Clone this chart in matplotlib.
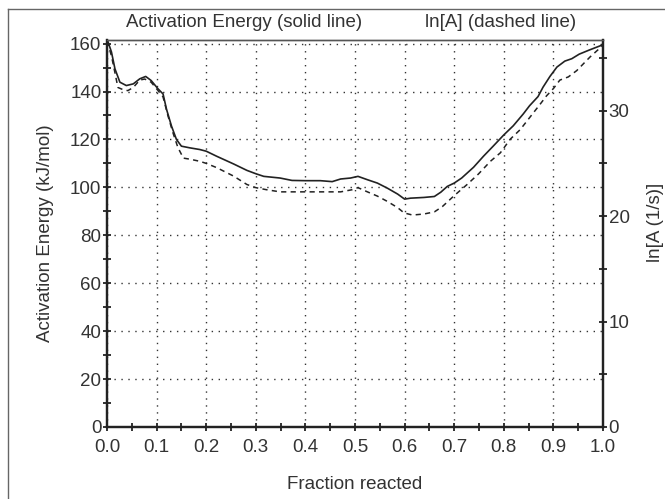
import matplotlib
matplotlib.use("Agg")
import matplotlib.pyplot as plt
from matplotlib.lines import Line2D
from matplotlib.ticker import MultipleLocator

plt.rcParams['font.family'] = ['Liberation Sans', 'DejaVu Sans']
plt.rcParams['font.size'] = 13.5

# activation energy (solid line), kJ/mol
ea_x = [0.0, 0.009, 0.016, 0.026, 0.039, 0.053, 0.066, 0.078, 0.089, 0.103,
        0.113, 0.12, 0.13, 0.14, 0.15, 0.167, 0.187, 0.2, 0.221, 0.255,
        0.282, 0.3, 0.316, 0.349, 0.373, 0.4, 0.43, 0.454, 0.471, 0.491,
        0.506, 0.525, 0.545, 0.565, 0.586, 0.6, 0.612, 0.639, 0.66, 0.673,
        0.686, 0.7, 0.715, 0.739, 0.759, 0.779, 0.8, 0.819, 0.839, 0.852,
        0.869, 0.879, 0.893, 0.907, 0.923, 0.937, 0.952, 0.972, 0.997, 1.0]
ea = [162, 156.5, 149.5, 143.9, 142.5, 143.2, 145.3, 146.3, 144.6, 141.1,
      139, 132.6, 125.6, 120, 117.2, 116.5, 115.8, 115.1, 113, 109.8,
      107.1, 105.7, 104.6, 103.9, 102.9, 102.8, 102.8, 102.4, 103.5, 103.9,
      104.6, 103.2, 101.8, 99.7, 97.2, 95.1, 95.5, 95.8, 96.2, 98,
      100.4, 101.8, 103.9, 108.4, 113, 117.3, 121.9, 125.7, 130.6, 134.1,
      137.9, 141.8, 146.3, 150.2, 152.7, 153.7, 155.6, 157.3, 159.3, 160]

# ln[A] (dashed line), 1/s
lna_x = [0.0, 0.009, 0.016, 0.022, 0.032, 0.042, 0.053, 0.066, 0.076, 0.089,
         0.103, 0.113, 0.123, 0.133, 0.143, 0.154, 0.167, 0.187, 0.2, 0.221,
         0.255, 0.282, 0.3, 0.322, 0.349, 0.397, 0.43, 0.471, 0.494, 0.506,
         0.525, 0.545, 0.565, 0.586, 0.599, 0.616, 0.639, 0.66, 0.676, 0.699,
         0.726, 0.749, 0.773, 0.793, 0.813, 0.833, 0.853, 0.873, 0.886, 0.9,
         0.913, 0.93, 0.947, 0.974, 1.0]
lna = [36.6, 35.2, 33.6, 32.2, 32.0, 31.9, 32.2, 32.9, 33.0, 32.7,
       31.9, 31.3, 29.5, 27.9, 26.5, 25.5, 25.4, 25.2, 25.0, 24.6,
       23.8, 23.0, 22.7, 22.5, 22.3, 22.3, 22.3, 22.3, 22.5, 22.7,
       22.3, 21.9, 21.4, 20.8, 20.3, 20.1, 20.2, 20.4, 20.9, 21.9,
       23.0, 24.0, 25.2, 26.0, 27.3, 28.2, 29.4, 30.6, 31.4, 32.1,
       32.9, 33.2, 33.8, 35.1, 36.2]

ink = '#222222'
txt = '#333333'

fig = plt.figure(figsize=(6.65, 4.99), dpi=100)
ax = fig.add_axes([0.1609, 0.1443, 0.7459, 0.7755])
ax2 = ax.twinx()

ax.plot(ea_x, ea, color=ink, lw=1.2)
l2, = ax2.plot(lna_x, lna, color=ink, lw=1.1, linestyle='--')
l2.set_dashes((3.4, 2.8))

ax.set_xlim(0, 1.0)
ax.set_ylim(0, 161.5)
ax2.set_ylim(0, 36.7)

ax.xaxis.set_minor_locator(MultipleLocator(0.05))
ax.yaxis.set_major_locator(MultipleLocator(20))
ax.yaxis.set_minor_locator(MultipleLocator(10))
ax2.yaxis.set_major_locator(MultipleLocator(10))
ax2.yaxis.set_minor_locator(MultipleLocator(5))
ax.set_xticks([i / 10 for i in range(11)])
ax.set_xticklabels(['%.1f' % (i / 10) for i in range(11)])

ax.grid(True, which='major', color='#333333', linestyle=(0, (1, 4)), lw=1.0)

for a in (ax, ax2):
    a.tick_params(which='both', direction='inout', length=6, width=1.3,
                  colors=ink, labelcolor=txt, labelsize=13.5)
ax.tick_params(axis='x', pad=6)
ax.tick_params(axis='y', pad=1)
ax2.tick_params(axis='y', pad=1)

for a in (ax, ax2):
    for s in ('left', 'bottom', 'right'):
        a.spines[s].set_linewidth(1.6)
        a.spines[s].set_color(ink)
    a.spines['top'].set_linewidth(1.0)
    a.spines['top'].set_color('#555555')

fig.text(0.068, 0.532, 'Activation Energy (kJ/mol)', rotation=90,
         ha='center', va='center', color=txt)
fig.text(0.985, 0.555, 'ln[A (1/s)]', rotation=90,
         ha='center', va='center', color=txt)
fig.text(0.534, 0.030, 'Fraction reacted', ha='center', va='center',
         color=txt)
fig.text(0.367, 0.954, 'Activation Energy (solid line)', ha='center',
         va='center', color=txt)
fig.text(0.752, 0.954, 'ln[A] (dashed line)', ha='center', va='center',
         color=txt)

# outer frame (left and top edges visible)
fig.add_artist(Line2D([8 / 665, 8 / 665], [0, 1 - 9 / 499],
                      transform=fig.transFigure, color='#666666', lw=1))
fig.add_artist(Line2D([8 / 665, 1], [1 - 9 / 499, 1 - 9 / 499],
                      transform=fig.transFigure, color='#666666', lw=1))

fig.savefig('out.png', dpi=100)
